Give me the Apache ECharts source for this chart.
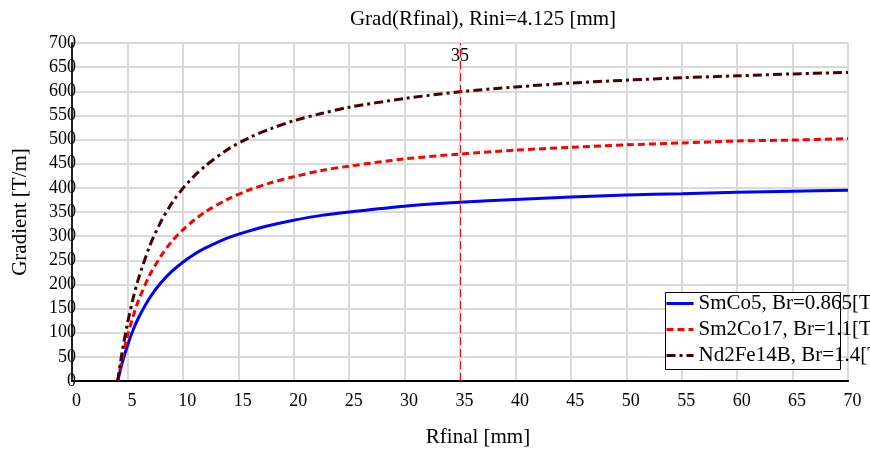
<!DOCTYPE html>
<html>
<head>
<meta charset="utf-8">
<script src="https://cdn.jsdelivr.net/npm/echarts@6/dist/echarts.min.js"></script>
<style>
html,body{margin:0;padding:0;background:#fff;}
#chart{width:870px;height:453px;}
</style>
</head>
<body>
<div id="chart"></div>
<script>
// ---- data ----
const rFinal = [4.125, 4.5, 5, 5.5, 6, 7, 8, 9, 10, 11, 12, 14, 16, 18, 20, 22.5, 25, 30, 35, 40, 45, 50, 55, 60, 65, 70];
const gradSmCo5   = [0, 35, 73, 105, 131, 172, 203, 227, 246, 262, 275, 296, 311, 323, 333, 343, 350, 362, 370, 376, 381, 385, 388, 391, 393, 395];
const gradSm2Co17 = [0, 44, 93, 133, 167, 219, 258, 289, 313, 333, 350, 376, 396, 411, 423, 436, 445, 460, 470, 478, 484, 489, 493, 497, 499, 502];
const gradNd2Fe14B= [0, 57, 119, 170, 212, 279, 329, 368, 399, 424, 445, 479, 504, 523, 539, 554, 567, 585, 599, 609, 617, 623, 628, 632, 636, 639];
const seriesNames = ['SmCo5, Br=0.865[T]', 'Sm2Co17, Br=1.1[T]', 'Nd2Fe14B, Br=1.4[T]'];
const markerX = 35;
const titleText = 'Grad(Rfinal), Rini=4.125 [mm]';
const xName = 'Rfinal [mm]';
const yName = 'Gradient [T/m]';

const FONT = '"Liberation Serif", "Times New Roman", serif';
const pair = (ys) => rFinal.map((x, i) => [x, ys[i]]);

const chart = echarts.init(document.getElementById('chart'), null, {renderer: 'canvas'});
const gridLine = {show: true, lineStyle: {color: '#d9d9d9', width: 2}};

chart.setOption({
  animation: false,
  backgroundColor: '#fff',
  title: {
    text: titleText, left: 478, top: 4, textAlign: 'center',
    textStyle: {fontFamily: FONT, fontSize: 21, fontWeight: 'normal', color: '#000'}
  },
  grid: {left: 72, right: 22, top: 43, bottom: 71, containLabel: false},
  legend: {
    orient: 'vertical', left: 665, top: 293, padding: 0, itemGap: 5,
    itemWidth: 27, itemHeight: 14, z: 10,
    data: seriesNames,
    itemStyle: {opacity: 0},
    lineStyle: {width: 3},
    textStyle: {fontFamily: FONT, fontSize: 21, color: '#000'}
  },
  graphic: [{
    type: 'rect', left: 665, top: 292, z: 5,
    shape: {width: 175, height: 77},
    style: {fill: '#fff', stroke: '#000', lineWidth: 1}
  }],
  xAxis: [{
    type: 'value', min: 0, max: 70, interval: 5,
    name: xName, nameLocation: 'middle', nameGap: 46,
    nameTextStyle: {fontFamily: FONT, fontSize: 21, color: '#000', padding: [0, 0, 0, 36]},
    axisLine: {show: true, onZero: false, lineStyle: {color: '#000', width: 2}},
    axisTick: {show: false},
    axisLabel: {fontFamily: FONT, fontSize: 18, color: '#000', margin: 11, padding: [0, 0, 0, 9]},
    splitLine: gridLine
  }, {
    type: 'value', position: 'top', min: 0, max: 70,
    axisLine: {show: true, lineStyle: {color: '#000', width: 1.5}},
    axisTick: {show: false}, axisLabel: {show: false}, splitLine: {show: false}
  }],
  yAxis: [{
    type: 'value', min: 0, max: 700, interval: 50,
    name: yName, nameLocation: 'middle', nameGap: 41,
    nameTextStyle: {fontFamily: FONT, fontSize: 21, color: '#000'},
    axisLine: {show: true, onZero: false, lineStyle: {color: '#808080', width: 2}},
    axisTick: {show: false},
    axisLabel: {fontFamily: FONT, fontSize: 18, color: '#000', margin: -4},
    splitLine: gridLine
  }, {
    type: 'value', position: 'right', min: 0, max: 700,
    axisLine: {show: true, lineStyle: {color: '#000', width: 1.5}},
    axisTick: {show: false}, axisLabel: {show: false}, splitLine: {show: false}
  }],
  series: [{
    name: seriesNames[0], type: 'line', data: pair(gradSmCo5), smooth: 0.3,
    symbol: 'none', color: '#0000ff', z: 3,
    lineStyle: {color: '#0000ff', width: 3}
  }, {
    name: seriesNames[1], type: 'line', data: pair(gradSm2Co17), smooth: 0.3,
    symbol: 'none', color: '#ff0000', z: 3,
    lineStyle: {color: '#ff0000', width: 3, type: [7, 4]},
    markLine: {
      silent: true, symbol: 'none',
      lineStyle: {color: '#ff0000', width: 1, type: [8, 4]},
      label: {show: true, position: 'end', distance: -22, formatter: String(markerX),
        fontFamily: FONT, fontSize: 18, color: '#000'},
      data: [{xAxis: markerX}]
    }
  }, {
    name: seriesNames[2], type: 'line', data: pair(gradNd2Fe14B), smooth: 0.3,
    symbol: 'none', color: '#4a0000', z: 3,
    lineStyle: {color: '#4a0000', width: 3, type: [9, 4, 3, 4]}
  }]
});
</script>
</body>
</html>
